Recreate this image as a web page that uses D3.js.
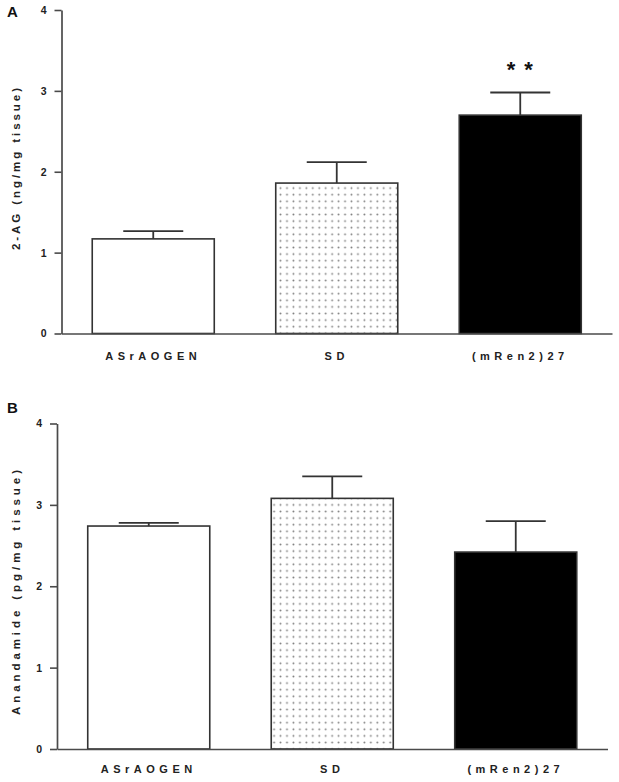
<!DOCTYPE html>
<html>
<head>
<meta charset="utf-8">
<script src="https://cdn.jsdelivr.net/npm/d3@7"></script>
<style>
  html, body { margin: 0; padding: 0; background: #fff; }
  svg { display: block; font-family: "Liberation Sans", Arial, sans-serif; }
</style>
</head>
<body>
<svg id="chart" width="619" height="782"></svg>
<script>
// ---- data ----
const categories = ["ASrAOGEN", "SD", "(mRen2)27"];
const valuesA = [1.17, 1.86, 2.70];
const errorsA = [0.095, 0.26, 0.28];
const valuesB = [2.74, 3.08, 2.42];
const errorsB = [0.04, 0.27, 0.38];
const yTicks = [0, 1, 2, 3, 4];
const yLabelA = "2-AG (ng/mg tissue)";
const yLabelB = "Anandamide (pg/mg tissue)";
const significanceA = ["", "", "**"];

const svg = d3.select("#chart");
const INK = "#222";
const LINE = "#4a4a4a";

const defs = svg.append("defs");
const pat = defs.append("pattern")
  .attr("id", "dots").attr("patternUnits", "userSpaceOnUse")
  .attr("width", 6.45).attr("height", 6.6);
pat.append("rect").attr("width", 6.45).attr("height", 6.6).attr("fill", "#fff");
pat.append("circle").attr("cx", 3.2).attr("cy", 3.3).attr("r", 0.95).attr("fill", "#808080");

const fillFor = i => i === 0 ? "#fff" : (i === 1 ? "url(#dots)" : "#000");

function panel(cfg) {
  const g = svg.append("g");
  const x = d3.scaleBand().domain(categories).range(cfg.xRange)
    .paddingInner(0.335).paddingOuter(0.1675);
  const y = d3.scaleLinear().domain([0, 4]).range(cfg.yRange);

  // bars
  g.selectAll("rect.bar").data(cfg.values).join("rect")
    .attr("class", "bar")
    .attr("x", (d, i) => x(categories[i]))
    .attr("width", x.bandwidth())
    .attr("y", d => y(d))
    .attr("height", d => y(0) - y(d))
    .attr("fill", (d, i) => fillFor(i))
    .attr("stroke", "#333").attr("stroke-width", 1.6);

  // error bars
  const eb = g.selectAll("g.err").data(cfg.values).join("g").attr("class", "err");
  eb.append("line")
    .attr("x1", (d, i) => x(categories[i]) + x.bandwidth() / 2)
    .attr("x2", (d, i) => x(categories[i]) + x.bandwidth() / 2)
    .attr("y1", d => y(d))
    .attr("y2", (d, i) => y(d + cfg.errors[i]))
    .attr("stroke", "#333").attr("stroke-width", 1.8);
  eb.append("line")
    .attr("x1", (d, i) => x(categories[i]) + x.bandwidth() / 2 - 30)
    .attr("x2", (d, i) => x(categories[i]) + x.bandwidth() / 2 + 30)
    .attr("y1", (d, i) => y(d + cfg.errors[i]))
    .attr("y2", (d, i) => y(d + cfg.errors[i]))
    .attr("stroke", "#333").attr("stroke-width", 1.8);

  // significance markers
  if (cfg.sig) {
    g.selectAll("text.sig").data(cfg.sig).join("text")
      .attr("class", "sig")
      .attr("x", (d, i) => x(categories[i]) + x.bandwidth() / 2 + 4)
      .attr("y", (d, i) => y(cfg.values[i] + cfg.errors[i]) - 15)
      .attr("text-anchor", "middle")
      .attr("font-size", 22).attr("font-weight", "bold")
      .attr("letter-spacing", 9)
      .attr("fill", "#111")
      .text(d => d);
  }

  // y axis
  const ya = g.append("g")
    .attr("transform", `translate(${cfg.xRange[0]},0)`)
    .call(d3.axisLeft(y).tickValues(yTicks).tickSize(7).tickSizeOuter(0).tickPadding(8).tickFormat(d3.format("d")));
  ya.select(".domain").attr("stroke", LINE).attr("stroke-width", 1.7);
  ya.selectAll(".tick line").attr("stroke", LINE).attr("stroke-width", 1.6);
  ya.selectAll(".tick text").attr("font-size", 10.5).attr("font-weight", "bold").attr("fill", INK)
    .attr("font-family", "Liberation Sans, Arial, sans-serif");

  // x axis
  const xa = g.append("g")
    .attr("transform", `translate(0,${y(0)})`)
    .call(d3.axisBottom(x).tickSize(0).tickSizeOuter(0).tickPadding(cfg.labelPad));
  xa.select(".domain").attr("stroke", LINE).attr("stroke-width", 1.7);
  xa.selectAll(".tick text").attr("font-size", 11).attr("font-weight", "bold").attr("fill", INK)
    .attr("letter-spacing", 4.5)
    .attr("font-family", "Liberation Sans, Arial, sans-serif");

  // y label
  g.append("text")
    .attr("transform", `translate(19.5,${cfg.yLabelCenter}) rotate(-90)`)
    .attr("text-anchor", "middle")
    .attr("font-size", 11.5).attr("font-weight", "bold").attr("fill", INK)
    .attr("textLength", cfg.yLabelLength).attr("lengthAdjust", "spacing")
    .text(cfg.yLabel);

  // panel letter
  g.append("text")
    .attr("x", 7).attr("y", cfg.letterY)
    .attr("font-size", 15).attr("font-weight", "bold").attr("fill", "#111")
    .text(cfg.letter);
}

panel({
  values: valuesA, errors: errorsA, sig: significanceA,
  xRange: [61.5, 612], yRange: [333.5, 10],
  labelPad: 18.5, yLabel: yLabelA, yLabelCenter: 169, yLabelLength: 162,
  letter: "A", letterY: 17
});
panel({
  values: valuesB, errors: errorsB, sig: null,
  xRange: [57, 607.5], yRange: [749, 423.5],
  labelPad: 16.5, yLabel: yLabelB, yLabelCenter: 592.5, yLabelLength: 245,
  letter: "B", letterY: 413
});
</script>
</body>
</html>
